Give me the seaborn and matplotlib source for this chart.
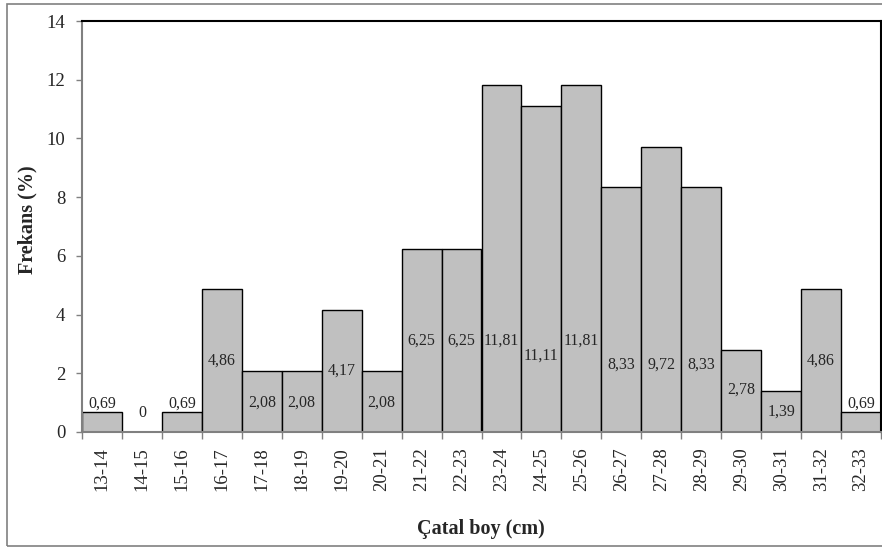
import matplotlib.pyplot as plt
import matplotlib.patches as mpatches
import seaborn as sns

# data
length_classes = ['13-14', '14-15', '15-16', '16-17', '17-18', '18-19', '19-20',
                  '20-21', '21-22', '22-23', '23-24', '24-25', '25-26', '26-27',
                  '27-28', '28-29', '29-30', '30-31', '31-32', '32-33']
frequency = [0.69, 0, 0.69, 4.86, 2.08, 2.08, 4.17, 2.08, 6.25, 6.25,
             11.81, 11.11, 11.81, 8.33, 9.72, 8.33, 2.78, 1.39, 4.86, 0.69]
# where the value labels sit (they were placed by hand in the original)
label_y = [0.95, 0.66, 0.95, 2.43, 1.01, 1.01, 2.09, 1.01, 3.11, 3.11,
           3.10, 2.59, 3.10, 2.28, 2.28, 2.28, 1.43, 0.69, 2.43, 0.95]
y_ticks = [0, 2, 4, 6, 8, 10, 12, 14]

sns.set_style('white')
plt.rcParams['font.family'] = ['Liberation Serif', 'DejaVu Serif']

fig = plt.figure(figsize=(8.82, 5.49), dpi=100)
ax = fig.add_axes([82 / 882, 117 / 549, 799 / 882, 411 / 549])

sns.barplot(x=length_classes, y=frequency, color='#C0C0C0', saturation=1,
            edgecolor='black', linewidth=1, width=1, ax=ax)

# value labels, decimal comma
for i, v in enumerate(frequency):
    txt = '0' if v == 0 else f'{v:.2f}'.replace('.', ',')
    ax.text(i, label_y[i], txt, ha='center', va='center', fontsize=11.5)

ax.set_xlim(-0.5, len(length_classes) - 0.5)
ax.set_ylim(0, 14)
ax.set_yticks(y_ticks)
ax.set_xlabel('')
ax.set_ylabel('')

# spines: grey axes, black top/right frame
for side in ['left', 'bottom']:
    ax.spines[side].set_color('#808080')
    ax.spines[side].set_linewidth(1.5)
for side in ['top', 'right']:
    ax.spines[side].set_color('black')
    ax.spines[side].set_linewidth(1.5)
    ax.spines[side].set_visible(True)

ax.tick_params(axis='y', direction='out', length=4, width=1, color='#808080',
               pad=8, labelsize=13.5, left=True)
ax.set_xticks(range(len(length_classes)))
ax.set_xticklabels(length_classes, rotation=90)
ax.set_xticks([i - 0.5 for i in range(len(length_classes) + 1)], minor=True)
ax.tick_params(axis='x', which='major', length=0, pad=11, labelsize=13.5)
ax.tick_params(axis='x', which='minor', direction='out', length=5, width=1,
               color='#808080', bottom=True)

fig.text(481 / 882, 1 - 529 / 549, 'Çatal boy (cm)', ha='center', va='center',
         fontsize=14.5, fontweight='bold')
fig.text(27 / 882, 1 - 220 / 549, 'Frekans (%)', ha='center', va='center',
         rotation=90, fontsize=14.5, fontweight='bold')

# grey frame round the chart area
fig.add_artist(mpatches.Rectangle((7 / 882, 3 / 549), 0.995, 542 / 549,
                                  transform=fig.transFigure, fill=False,
                                  edgecolor='#808080', linewidth=1.2))

plt.savefig('out.png', dpi=100)
